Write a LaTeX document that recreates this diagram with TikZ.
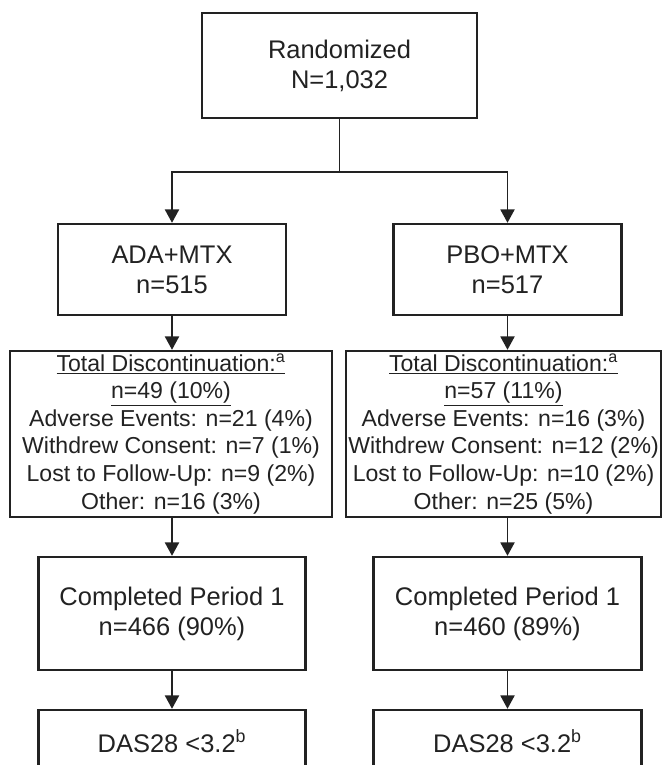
\documentclass[tikz,border=0pt]{standalone}
\usepackage{fontspec}
\setmainfont{Liberation Sans}
\usetikzlibrary{arrows.meta}
\definecolor{ink}{HTML}{222222}
\begin{document}
\begin{tikzpicture}[x=0.75pt,y=-0.75pt,
  box/.style={draw=ink, line width=1.8pt, text=ink, align=center, inner sep=0pt,
    font=\fontsize{19.1}{22.5}\selectfont},
  tdbox/.style={box, font=\fontsize{17.3}{20.7}\selectfont},
  arr/.style={draw=ink, line width=1.4pt, -{Triangle[width=10.5pt,length=10pt]}},
  link/.style={draw=ink, line width=1.4pt}]
\useasboundingbox (0,0) rectangle (662,765);
\fill[white] (0,0) rectangle (662,765);
\clip (0,0) rectangle (662,765);
% top
\node[box, minimum width=206.25pt, minimum height=78.75pt] (rand) at (339.5,65.5) {Randomized\\N=1,032};
\coordinate (split) at (339.5,172);
% second row
\node[box, minimum width=171pt, minimum height=68.25pt] (ada) at (172,269.5) {ADA+MTX\\n=515};
\node[box, minimum width=171pt, minimum height=68.25pt] (pbo) at (507.5,269.5) {PBO+MTX\\n=517};
% discontinuation
\node[tdbox, minimum width=241.5pt, minimum height=124.5pt] (tdl) at (171,434)
  {\underline{Total Discontinuation:\textsuperscript{a}}\\\underline{n=49 (10\%)}\\Adverse Events: n=21 (4\%)\\Withdrew Consent: n=7 (1\%)\\Lost to Follow-Up: n=9 (2\%)\\Other: n=16 (3\%)};
\node[tdbox, minimum width=236.25pt, minimum height=124.5pt] (tdr) at (503.5,434)
  {\underline{Total Discontinuation:\textsuperscript{a}}\\\underline{n=57 (11\%)}\\Adverse Events: n=16 (3\%)\\Withdrew Consent: n=12 (2\%)\\Lost to Follow-Up: n=10 (2\%)\\Other: n=25 (5\%)};
% completed
\node[box, minimum width=200.25pt, minimum height=84.75pt] (cpl) at (172,613.5) {Completed Period 1\\n=466 (90\%)};
\node[box, minimum width=201pt, minimum height=84.75pt] (cpr) at (507.5,613.5) {Completed Period 1\\n=460 (89\%)};
% DAS
\node[box, minimum width=200.25pt, minimum height=46.5pt] (dasl) at (172,741) {DAS28 <3.2\textsuperscript{b}};
\node[box, minimum width=201pt, minimum height=46.5pt] (dasr) at (507.5,741) {DAS28 <3.2\textsuperscript{b}};
% connectors
\draw[link] (rand) -- (split);
\draw[arr] (split) -| (ada);
\draw[arr] (split) -| (pbo);
\draw[arr] (ada.south) -- (ada.south |- tdl.north);
\draw[arr] (pbo.south) -- (pbo.south |- tdr.north);
\draw[arr] (ada.south |- tdl.south) -- (cpl.north);
\draw[arr] (pbo.south |- tdr.south) -- (cpr.north);
\draw[arr] (cpl) -- (dasl);
\draw[arr] (cpr) -- (dasr);
\end{tikzpicture}
\end{document}
